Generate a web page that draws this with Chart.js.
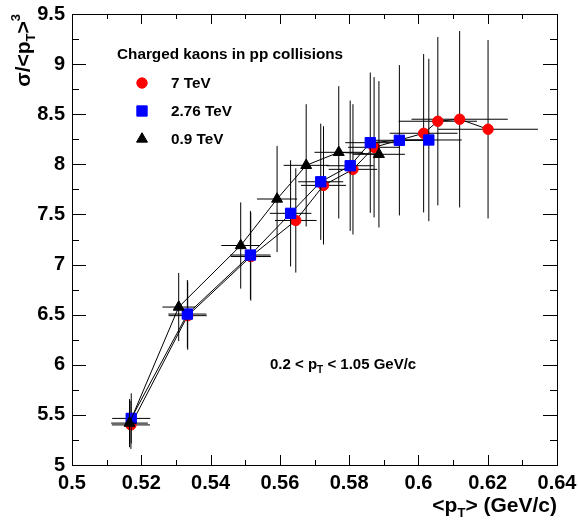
<!DOCTYPE html>
<html lang="en">
<head>
  <meta charset="UTF-8">
  <title>Charged kaons in pp collisions</title>
  <script src="https://cdn.jsdelivr.net/npm/chart.js"></script>
  <style>
    body { margin: 0; background: #ffffff; }
    #box { width: 578px; height: 521px; }
  </style>
</head>
<body>
  <div id="box"><canvas id="kaons" width="578" height="521"></canvas></div>

  <script>
    // 7 TeV
    const x7  = [0.5170, 0.5334, 0.5516, 0.5646, 0.5726, 0.5811, 0.5872, 0.6015, 0.6056, 0.6119, 0.6201];
    const y7  = [5.40, 6.49, 7.08, 7.44, 7.79, 7.95, 8.17, 8.31, 8.43, 8.45, 8.35];
    const ex7 = [0.0055, 0.0055, 0.0058, 0.0060, 0.0065, 0.0070, 0.0075, 0.0098, 0.0113, 0.0139, 0.0144];
    const ey7 = [0.24, 0.34, 0.44, 0.52, 0.59, 0.65, 0.70, 0.79, 0.84, 0.88, 0.89];

    // 2.76 TeV
    const x276  = [0.5171, 0.5333, 0.5515, 0.5631, 0.5718, 0.5803, 0.5861, 0.5945, 0.6030];
    const y276  = [5.465, 6.506, 7.095, 7.511, 7.826, 7.986, 8.216, 8.240, 8.243];
    const ex276 = [0.0055, 0.0055, 0.0058, 0.0060, 0.0065, 0.0068, 0.0072, 0.0080, 0.0095];
    const ey276 = [0.25, 0.34, 0.44, 0.53, 0.58, 0.65, 0.70, 0.75, 0.81];

    // 0.9 TeV
    const x09  = [0.5166, 0.5308, 0.5487, 0.5592, 0.5676, 0.5770, 0.5886];
    const y09  = [5.418, 6.576, 7.190, 7.654, 7.990, 8.120, 8.100];
    const ex09 = [0.0053, 0.0047, 0.0056, 0.0058, 0.0065, 0.0070, 0.0075];
    const ey09 = [0.24, 0.34, 0.43, 0.53, 0.61, 0.66, 0.73];

    const xTicks = [0.5, 0.52, 0.54, 0.56, 0.58, 0.6, 0.62, 0.64];
    const yTicks = [5, 5.5, 6, 6.5, 7, 7.5, 8, 8.5, 9, 9.5];

    const FONT = "'Liberation Sans', Arial, sans-serif";

    function pts(xs, ys) {
      return xs.map((x, i) => ({ x: x, y: ys[i] }));
    }

    const errors = [
      { ex: ex7, ey: ey7 },
      { ex: ex276, ey: ey276 },
      { ex: ex09, ey: ey09 }
    ];

    // error bars drawn under each graph's line and markers
    const errorBars = {
      id: 'errorBars',
      beforeDatasetDraw(chart, args) {
        const e = errors[args.index];
        const xs = chart.scales.x, ys = chart.scales.y;
        const ctx = chart.ctx;
        ctx.save();
        ctx.strokeStyle = '#000';
        ctx.lineWidth = 1;
        chart.data.datasets[args.index].data.forEach((p, i) => {
          const px = xs.getPixelForValue(p.x), py = ys.getPixelForValue(p.y);
          ctx.beginPath();
          ctx.moveTo(xs.getPixelForValue(p.x - e.ex[i]), py);
          ctx.lineTo(xs.getPixelForValue(p.x + e.ex[i]), py);
          ctx.moveTo(px, ys.getPixelForValue(p.y - e.ey[i]));
          ctx.lineTo(px, ys.getPixelForValue(p.y + e.ey[i]));
          ctx.stroke();
        });
        ctx.restore();
      }
    };

    function midpoints(a) {
      const m = [];
      for (let i = 0; i < a.length - 1; i++) m.push((a[i] + a[i + 1]) / 2);
      return m;
    }

    // ROOT-like frame, ticks on all four sides, legend and titles
    const decor = {
      id: 'decor',
      afterDraw(chart) {
        const ctx = chart.ctx;
        const a = chart.chartArea;
        const xs = chart.scales.x, ys = chart.scales.y;
        ctx.save();
        ctx.strokeStyle = '#000';
        ctx.lineWidth = 1;
        ctx.strokeRect(a.left + 0.5, a.top + 0.5, a.right - a.left, a.bottom - a.top);

        ctx.beginPath();
        xTicks.forEach(v => {
          const p = Math.round(xs.getPixelForValue(v)) + 0.5;
          ctx.moveTo(p, a.bottom); ctx.lineTo(p, a.bottom - 10);
          ctx.moveTo(p, a.top); ctx.lineTo(p, a.top + 10);
        });
        midpoints(xTicks).forEach(v => {
          const p = Math.round(xs.getPixelForValue(v)) + 0.5;
          ctx.moveTo(p, a.bottom); ctx.lineTo(p, a.bottom - 5);
          ctx.moveTo(p, a.top); ctx.lineTo(p, a.top + 5);
        });
        yTicks.forEach(v => {
          const p = Math.round(ys.getPixelForValue(v)) + 0.5;
          ctx.moveTo(a.left, p); ctx.lineTo(a.left + 14, p);
          ctx.moveTo(a.right, p); ctx.lineTo(a.right - 14, p);
        });
        midpoints(yTicks).forEach(v => {
          const p = Math.round(ys.getPixelForValue(v)) + 0.5;
          ctx.moveTo(a.left, p); ctx.lineTo(a.left + 7, p);
          ctx.moveTo(a.right, p); ctx.lineTo(a.right - 7, p);
        });
        ctx.stroke();

        ctx.fillStyle = '#000';
        ctx.textAlign = 'left';
        ctx.textBaseline = 'alphabetic';

        // x title: <p_T> (GeV/c), right aligned
        const big = 'bold 21px ' + FONT, sub = 'bold 13px ' + FONT;
        ctx.font = big;
        const w1 = ctx.measureText('<p').width, w3 = ctx.measureText('> (GeV/c)').width;
        ctx.font = sub;
        const w2 = ctx.measureText('T').width;
        let x0 = a.right - (w1 + w2 + w3);
        const yb = 512;
        ctx.font = big; ctx.fillText('<p', x0, yb);
        ctx.font = sub; ctx.fillText('T', x0 + w1, yb + 5);
        ctx.font = big; ctx.fillText('> (GeV/c)', x0 + w1 + w2, yb);

        // y title: sigma/<p_T>^3, rotated, right aligned at the top
        ctx.save();
        ctx.translate(30, a.top);
        ctx.rotate(-Math.PI / 2);
        const yf = 'bold 21px ' + FONT, ys2 = 'bold 13px ' + FONT;
        ctx.font = yf;
        const t1 = ctx.measureText('σ/<p').width, t3 = ctx.measureText('>').width;
        ctx.font = ys2;
        const t2 = ctx.measureText('T').width, t4 = ctx.measureText('3').width;
        let s = -(t1 + t2 + t3 + t4);
        ctx.font = yf; ctx.fillText('σ/<p', s, 0); s += t1;
        ctx.font = ys2; ctx.fillText('T', s, 5); s += t2;
        ctx.font = yf; ctx.fillText('>', s, 0); s += t3;
        ctx.font = ys2; ctx.fillText('3', s, -10);
        ctx.restore();

        // legend
        ctx.font = 'bold 15.3px ' + FONT;
        ctx.fillText('Charged kaons in pp collisions', 117, 59);
        const rows = [88, 116, 144];
        chart.data.datasets.forEach((ds, i) => {
          ctx.fillStyle = ds.pointBackgroundColor;
          ctx.strokeStyle = ds.pointBackgroundColor;
          Chart.helpers.drawPoint(ctx, {
            pointStyle: ds.pointStyle, radius: ds.pointRadius, rotation: 0, borderWidth: 1
          }, 142, rows[i] - 5);
          ctx.fillStyle = '#000';
          ctx.fillText(ds.label, 171, rows[i]);
        });

        // pT range annotation
        const af = 'bold 15px ' + FONT, as = 'bold 10px ' + FONT;
        let ax = 270;
        const ab = 369;
        ctx.font = af; ctx.fillText('0.2 < p', ax, ab); ax += ctx.measureText('0.2 < p').width;
        ctx.font = as; ctx.fillText('T', ax, ab + 4); ax += ctx.measureText('T').width;
        ctx.font = af; ctx.fillText(' < 1.05 GeV/c', ax, ab);
        ctx.restore();
      }
    };

    function graph(label, xs, ys, color, style, radius, order) {
      return {
        label: label,
        data: pts(xs, ys),
        showLine: true,
        borderColor: '#000',
        borderWidth: 1,
        pointStyle: style,
        pointRadius: radius,
        pointHoverRadius: radius,
        pointBackgroundColor: color,
        pointBorderColor: color,
        pointBorderWidth: 1,
        order: order
      };
    }

    new Chart(document.getElementById('kaons'), {
      type: 'scatter',
      data: {
        datasets: [
          graph('7 TeV', x7, y7, '#ff0000', 'circle', 5.2, 3),
          graph('2.76 TeV', x276, y276, '#0000ff', 'rect', 7.3, 2),
          graph('0.9 TeV', x09, y09, '#000000', 'triangle', 6.3, 1)
        ]
      },
      options: {
        responsive: false,
        animation: false,
        events: [],
        layout: { padding: { top: 14, right: 21, left: 0, bottom: 0 } },
        plugins: { legend: { display: false }, tooltip: { enabled: false } },
        scales: {
          x: {
            type: 'linear', min: 0.5, max: 0.64,
            afterBuildTicks: s => { s.ticks = xTicks.map(v => ({ value: v })); },
            afterFit: s => { s.height = 56; s.paddingLeft = 0; s.paddingRight = 0; },
            grid: { display: false, drawTicks: false },
            border: { display: false },
            ticks: {
              padding: 6, maxRotation: 0, autoSkip: false, color: '#000',
              font: { family: FONT, size: 20, weight: 'bold' },
              callback: v => String(v)
            }
          },
          y: {
            type: 'linear', min: 5, max: 9.5,
            afterBuildTicks: s => { s.ticks = yTicks.map(v => ({ value: v })); },
            afterFit: s => { s.width = 72; s.paddingTop = 0; s.paddingBottom = 0; },
            grid: { display: false, drawTicks: false },
            border: { display: false },
            ticks: {
              padding: 7, autoSkip: false, color: '#000',
              font: { family: FONT, size: 20, weight: 'bold' },
              callback: v => String(v)
            }
          }
        }
      },
      plugins: [errorBars, decor]
    });
  </script>
</body>
</html>
